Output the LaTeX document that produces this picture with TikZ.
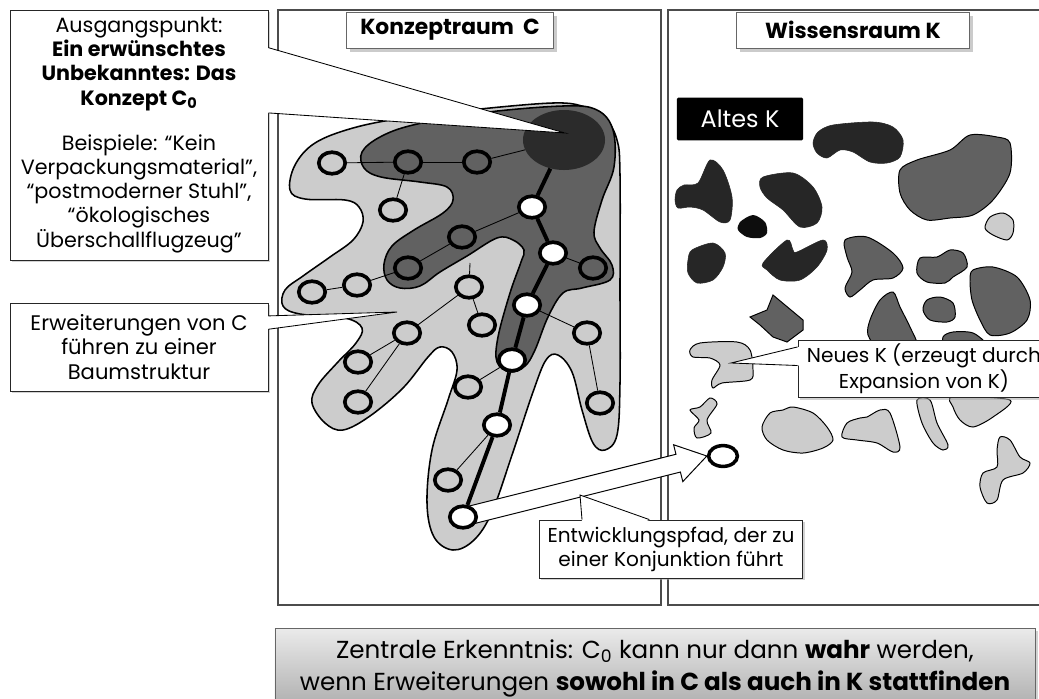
\documentclass[tikz,border=0pt]{standalone}
\usepackage{fontspec}
\setmainfont{Poppins}
\usepackage{tikz}
\usetikzlibrary{shapes.geometric,shadows,calc,positioning,backgrounds}
\colorlet{handGray}{black!20}
\colorlet{midGray}{black!62}
\colorlet{coreGray}{black!83}
\colorlet{oldGray}{black!85}

\begin{document}
\begin{tikzpicture}[x=0.025cm, y=-0.025cm,
    every node/.style={font=\fontsize{14.3}{17}\selectfont, align=center},
    ring/.style={draw, ellipse, line width=2.6pt, minimum width=0.66cm, minimum height=0.54cm, inner sep=0pt},
    lightring/.style={ring, fill=handGray},
    darkring/.style={ring, fill=midGray},
    pathring/.style={ring, fill=white},
    twig/.style={line width=0.6pt},
    trunk/.style={line width=2.8pt},
    titlebox/.style={draw=black!60, fill=white, line width=0.5pt, inner sep=0pt,
        font=\fontsize{15.5}{18}\selectfont\bfseries,
        drop shadow={shadow xshift=2.5pt, shadow yshift=-2.5pt, fill=black!40}},
    callbox/.style={draw=black!85, fill=white, line width=0.6pt, inner sep=0pt,
        drop shadow={shadow xshift=1.5pt, shadow yshift=-1.5pt, fill=black!35}},
    oldblob/.style={fill=oldGray, draw=oldGray, line width=0.4pt},
    midblob/.style={fill=midGray, draw=black, line width=0.7pt},
    newblob/.style={fill=handGray, draw=black, line width=0.7pt}]
    \useasboundingbox (0,0) rectangle (1039,698);

    % concept C0 and the tree of expansions
    \node[ellipse, fill=coreGray, minimum width=2.05cm, minimum height=1.5cm, inner sep=0pt] (c0) at (564,140) {};
    \node[lightring] (n1) at (332,163) {};
    \node[darkring] (n2) at (408,162) {};
    \node[darkring] (n3) at (477,162) {};
    \node[lightring] (n4) at (393,210) {};
    \node[pathring] (w1) at (532,207) {};
    \node[darkring] (n5) at (462,237) {};
    \node[pathring] (w2) at (553,253) {};
    \node[darkring] (n6) at (593,268) {};
    \node[darkring] (n7) at (408,268) {};
    \node[lightring] (n8) at (357,285) {};
    \node[lightring] (n9) at (312,292) {};
    \node[lightring] (n10) at (469,287) {};
    \node[pathring] (w3) at (527,305) {};
    \node[lightring] (n11) at (482,325) {};
    \node[lightring] (n12) at (407,333) {};
    \node[lightring] (n13) at (358,362) {};
    \node[lightring] (n14) at (358,402) {};
    \node[pathring] (w4) at (512,360) {};
    \node[lightring] (n15) at (468,387) {};
    \node[lightring] (n16) at (587,333) {};
    \node[lightring] (n17) at (600,403) {};
    \node[pathring] (w5) at (497,425) {};
    \node[lightring] (n18) at (448,480) {};
    \node[pathring] (w6) at (463,517) {};
    \coordinate (stub) at (470,263);

    \foreach \a/\b in {n1/n2, n2/n3, n3/c0, n2/n4, w1/n5, n5/n7, n7/n8, n8/n9, w2/n6,
        n10/stub, n10/n12, n10/n11, n12/n13, n12/n14, w4/n15, w3/n16, n16/n17, w5/n18}
        \draw[twig] (\a) -- (\b);
    \draw[trunk] (c0) -- (w1) -- (w2) -- (w3) -- (w4) -- (w5) -- (w6);

    % knowledge space K
    \fill[oldblob] plot[smooth cycle] coordinates {(818,132) (833,125) (873,122) (893,127) (903,140) (900,157) (887,163) (870,162) (853,152) (840,150) (827,158) (817,153) (813,143)};
    \fill[oldblob] plot[smooth cycle] coordinates {(677,190) (684,185) (698,183) (710,160) (723,170) (732,197) (730,220) (720,222) (703,210) (690,207) (678,208) (675,200)};
    \fill[oldblob] plot[smooth cycle] coordinates {(763,177) (793,173) (813,187) (822,207) (817,223) (800,227) (783,210) (767,198) (760,187)};
    \fill[black!95] plot[smooth cycle] coordinates {(740,222) (753,215) (765,222) (767,233) (760,238) (747,237) (738,230)};
    \fill[oldblob] plot[smooth cycle] coordinates {(692,250) (713,243) (725,253) (723,267) (713,280) (697,283) (688,273) (688,260)};
    \fill[oldblob] plot[smooth cycle] coordinates {(763,263) (787,240) (793,250) (797,252) (823,240) (827,250) (817,267) (800,280) (780,280) (767,270)};

    \draw[midblob] plot[smooth cycle] coordinates {(900,170) (917,160) (950,150) (970,135) (997,137) (1010,143) (1010,173) (993,200) (973,215) (950,218) (927,220) (910,210) (900,193)};
    \draw[midblob] plot[smooth cycle] coordinates {(845,240) (867,237) (893,253) (903,268) (893,278) (873,280) (860,290) (850,297) (845,288) (852,272) (847,257)};
    \draw[midblob] plot[smooth cycle] coordinates {(920,258) (937,257) (950,250) (963,253) (967,267) (953,277) (945,283) (927,282) (917,273)};
    \draw[midblob] plot[smooth cycle] coordinates {(973,270) (993,267) (1017,277) (1030,300) (1027,320) (1010,333) (990,335) (980,320) (972,300) (970,280)};
    \draw[midblob] plot[smooth cycle] coordinates {(927,300) (940,297) (953,303) (955,317) (947,322) (930,320) (923,310)};
    \draw[midblob] plot[smooth cycle] coordinates {(870,320) (880,300) (893,292) (900,307) (910,327) (917,345) (905,355) (880,350) (868,335)};
    \draw[midblob] plot[smooth cycle] coordinates {(943,337) (953,332) (973,333) (985,345) (960,355) (945,350)};
    \draw[midblob] (750,317) -- (767,310) -- (773,295) -- (803,320) -- (803,330) -- (787,342) -- (773,337) -- (760,325) -- cycle;

    \draw[newblob] plot[smooth cycle] coordinates {(990,217) (1003,213) (1013,220) (1013,233) (1007,240) (993,235) (985,228)};
    \draw[newblob] plot[smooth cycle] coordinates {(690,350) (700,343) (737,342) (750,350) (753,370) (750,380) (722,383) (713,388) (712,380) (720,365) (710,358) (693,357)};
    \draw[newblob] plot[smooth cycle] coordinates {(710,398) (717,404) (707,420) (711,433) (697,438) (694,428) (699,420) (690,410) (700,407)};
    \draw[newblob] plot[smooth cycle] coordinates {(770,413) (783,410) (793,407) (813,413) (827,427) (833,440) (823,448) (803,453) (783,450) (767,440) (762,427)};
    \draw[newblob] plot[smooth cycle] coordinates {(847,423) (860,418) (867,417) (880,410) (890,413) (900,447) (893,452) (877,443) (857,440) (842,437)};
    \draw[newblob] plot[smooth cycle] coordinates {(917,400) (930,400) (937,423) (948,445) (943,450) (933,443) (922,423)};
    \draw[newblob] plot[smooth cycle] coordinates {(953,397) (1010,400) (993,417) (973,427) (960,420) (953,407)};
    \draw[newblob] plot[smooth cycle] coordinates {(1000,437) (1010,440) (1020,457) (1030,463) (1023,473) (1003,480) (997,500) (987,503) (980,487) (983,473) (997,467) (997,450)};
    \node[draw, ellipse, line width=2.5pt, minimum width=0.72cm, minimum height=0.52cm, inner sep=0pt] (conj) at (723,456) {};

    % titles
    \node[titlebox, minimum width=5.18cm, minimum height=0.9cm] (ctitle) at (450,30) {Konzeptraum~~C};
    \node[titlebox, minimum width=5.83cm, minimum height=0.9cm] (ktitle) at (853,30) {Wissensraum K};
    \node[fill=black, text=white, rounded corners=1pt, minimum width=3.15cm, minimum height=1.07cm,
        font=\fontsize{17}{20}\selectfont] (oldk) at (740,119) {Altes K};

    % callouts
    \node[callbox, minimum width=6.45cm, minimum height=6.25cm, font=\fontsize{14.7}{17.2}\selectfont] (start) at (139,135)
        {Ausgangspunkt:\\ \textbf{Ein erwünschtes}\\ \textbf{Unbekanntes: Das}\\ \textbf{Konzept C\textsubscript{0}}\\[15pt]
         Beispiele: “Kein\\ Verpackungsmaterial",\\ “postmoderner Stuhl”,\\ “ökologisches\\ Überschallflugzeug”};
    \coordinate (startA) at ($(start.north east)!0.152!(start.south east)$);
    \coordinate (startB) at ($(start.north east)!0.412!(start.south east)$);
    \coordinate (tipC0) at ($(c0)+(1,-7)$);
    \fill[white] ($(startA)+(-1.5,0)$) -- (tipC0) -- ($(startB)+(-1.5,0)$) -- cycle;
    \draw[line width=0.6pt] (startA) -- (tipC0) -- (startB);

    \node[callbox, minimum width=6.45cm, minimum height=2.2cm, font=\fontsize{15}{17.5}\selectfont] (tree) at (139,347)
        {Erweiterungen von C\\ führen zu einer\\ Baumstruktur};
    \coordinate (treeA) at ($(tree.north east)!0.15!(tree.south east)$);
    \coordinate (treeB) at ($(tree.north east)!0.30!(tree.south east)$);
    \coordinate (tipTree) at (397,312);
    \fill[white] ($(treeA)+(-1.5,0)$) -- (tipTree) -- ($(treeB)+(-1.5,0)$) -- cycle;
    \draw[line width=0.6pt] (treeA) -- (tipTree) -- (treeB);

    \node[callbox, minimum width=6.3cm, minimum height=1.43cm] (newk) at (924,369)
        {Neues K (erzeugt durch\\ Expansion von K)};
    \coordinate (newkA) at ($(newk.north west)!0.12!(newk.south west)$);
    \coordinate (newkB) at ($(newk.north west)!0.44!(newk.south west)$);
    \coordinate (tipNew) at (731,363);
    \fill[white] ($(newkA)+(1.5,0)$) -- (tipNew) -- ($(newkB)+(1.5,0)$) -- cycle;
    \draw[line width=0.6pt] (newkA) -- (tipNew) -- (newkB);

    \node[callbox, minimum width=6.58cm, minimum height=1.45cm] (devpath) at (671,549)
        {Entwicklungspfad, der zu\\ einer Konjunktion führt};
    \coordinate (devA) at ($(devpath.north west)!0.163!(devpath.north east)$);
    \coordinate (devB) at ($(devpath.north west)!0.418!(devpath.north east)$);
    \coordinate (tipPath) at (580,495);
    \fill[white] ($(devA)+(0,1.5)$) -- (tipPath) -- ($(devB)+(0,1.5)$) -- cycle;
    \draw[line width=0.6pt] (devA) -- (tipPath) -- (devB);

    % key insight
    \node[draw=black!60, top color=black!8, bottom color=black!32, minimum width=19cm, minimum height=2cm,
        font=\fontsize{17.5}{22.7}\selectfont,
        drop shadow={shadow xshift=2pt, shadow yshift=-2pt, fill=black!35}] (insight) at (655,668)
        {Zentrale Erkenntnis: C\textsubscript{0} kann nur dann \textbf{wahr} werden,\\
         wenn Erweiterungen \textbf{sowohl in C als auch in K stattfinden}};

    \begin{scope}[on background layer]
        % panels
        \draw[black!70, line width=0.9pt, fill=white] (278,10) rectangle (661,605);
        \draw[black!70, line width=0.9pt, fill=white] (668,10) rectangle (1050,605);
        % explored regions of C
        \draw[fill=handGray, line width=1.1pt] plot[smooth cycle, tension=0.6] coordinates {(290,190) (295,165) (315,143) (353,128) (403,118) (470,110) (553,103) (585,107) (605,118) (617,140) (620,175) (620,290) (620,383) (617,435) (605,450) (593,443) (582,410) (572,372) (558,355) (546,360) (533,392) (512,455) (492,512) (474,540) (453,550) (434,537) (427,503) (432,450) (448,400) (457,370) (452,352) (440,347) (428,357) (403,388) (370,416) (343,430) (325,423) (312,403) (318,385) (337,363) (356,343) (362,328) (345,318) (300,314) (283,306) (285,290) (303,276) (330,257) (353,240) (363,222) (359,207) (345,200) (305,199)};
        \draw[fill=midGray, line width=1.1pt] plot[smooth cycle, tension=0.6] coordinates {(362,152) (380,137) (413,125) (480,113) (563,106) (597,110) (613,130) (614,167) (602,200) (594,232) (600,248) (612,265) (610,280) (582,288) (563,293) (548,317) (535,350) (525,366) (510,372) (497,362) (498,337) (510,293) (521,262) (524,250) (513,240) (497,238) (467,256) (440,272) (420,286) (400,288) (387,280) (384,264) (392,246) (414,230) (443,213) (453,200) (447,187) (420,182) (381,177) (364,168)};
        % arrow to the conjunction
        \coordinate (arrTip) at (conj.west);
        \coordinate (arrHead) at ($(arrTip)!21pt!(w6)$);
        \draw[fill=white, line width=0.7pt, line join=miter]
            ($(w6)!6.5pt!90:(arrTip)$) -- ($(arrHead)!6.5pt!90:(arrTip)$) -- ($(arrHead)!13.5pt!90:(arrTip)$)
            -- (arrTip) -- ($(arrHead)!13.5pt!-90:(arrTip)$) -- ($(arrHead)!6.5pt!-90:(arrTip)$)
            -- ($(w6)!6.5pt!-90:(arrTip)$) -- cycle;
    \end{scope}
\end{tikzpicture}
\end{document}
